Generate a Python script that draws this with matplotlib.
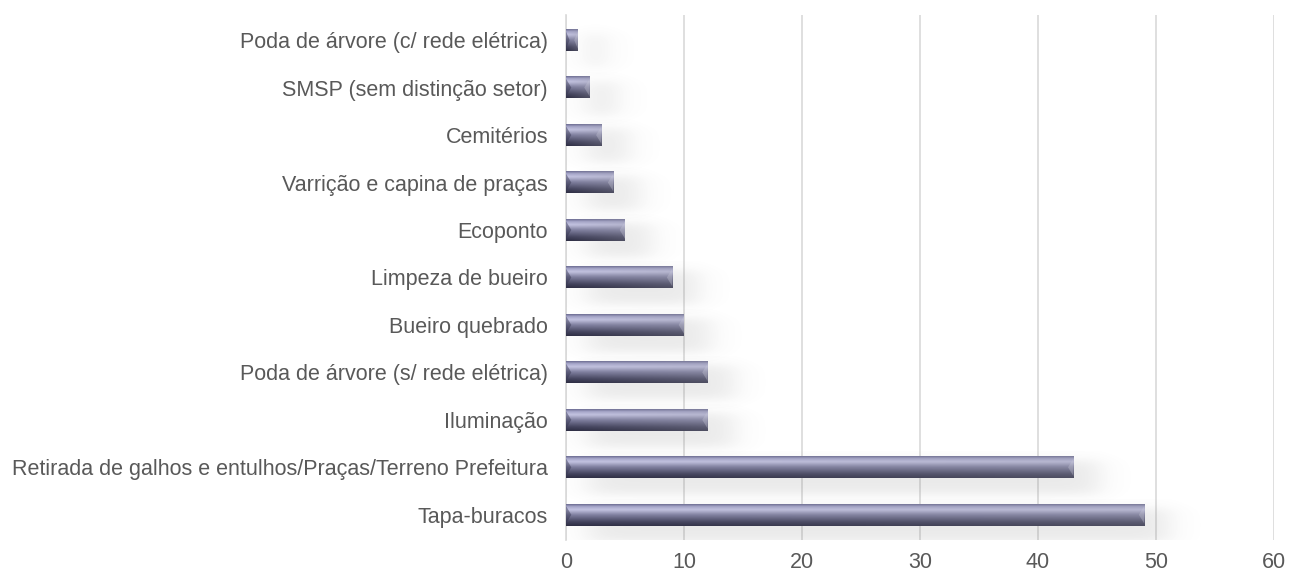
import numpy as np
import matplotlib.pyplot as plt
from matplotlib.colors import to_rgb

plt.rcParams['font.family'] = ['Liberation Sans', 'DejaVu Sans']

# categorias de baixo para cima
categorias = [
    "Tapa-buracos",
    "Retirada de galhos e entulhos/Praças/Terreno Prefeitura",
    "Iluminação",
    "Poda de árvore (s/ rede elétrica)",
    "Bueiro quebrado",
    "Limpeza de bueiro",
    "Ecoponto",
    "Varrição e capina de praças",
    "Cemitérios",
    "SMSP (sem distinção setor)",
    "Poda de árvore (c/ rede elétrica)",
]
valores = [49, 43, 12, 12, 10, 9, 5, 4, 3, 2, 1]
xticks = [0, 10, 20, 30, 40, 50, 60]


def bar_image(nx=200, ny=40):
    # perfil vertical: borda superior media, brilho perto do topo, base escura
    stops = [(0.0, "#6e6e94"), (0.10, "#a4a4c8"), (0.25, "#c4c4e2"),
             (0.50, "#7e7e9e"), (0.82, "#42425c"), (1.0, "#2e2e44")]
    t = np.linspace(0, 1, ny)
    prof = np.zeros((ny, 3))
    for c in range(3):
        prof[:, c] = np.interp(t, [s[0] for s in stops],
                               [to_rgb(s[1])[c] for s in stops])
    # leve clareamento acinzentado para a direita
    hx = np.linspace(0, 1, nx)[None, :, None]
    cinza = np.array(to_rgb("#9a9aa8"))[None, None, :]
    img = prof[:, None, :] * (1 - 0.3 * hx) + cinza * 0.3 * hx
    return np.clip(img, 0, 1)


def soft_box(v, a, b, s):
    return 0.5 * (np.tanh((v - a) / s) - np.tanh((v - b) / s))


fig, ax = plt.subplots(figsize=(12.9, 5.75), dpi=100)
fig.subplots_adjust(left=566 / 1290, right=1274 / 1290, bottom=0.061, top=0.974)

y = np.arange(len(categorias))
altura = 0.46
bars = ax.barh(y, valores, height=altura, color="none", zorder=3)

img = bar_image()
for b in bars:
    x0, y0 = b.get_x(), b.get_y()
    w, h = b.get_width(), b.get_height()
    # sombra suave (deslocada para a direita e para baixo)
    ex = [x0, x0 + w + 6.0, y0 - 0.55, y0 + h + 0.1]
    sx = np.linspace(ex[0], ex[1], 200)
    sy = np.linspace(ex[2], ex[3], 60)
    ax_x = soft_box(sx, x0 + 1.8, x0 + w + 2.2, 1.5)
    ax_y = soft_box(sy, y0 - 0.35, y0 + h * 0.8, 0.14)
    alpha = ax_y[:, None] * ax_x[None, :] * 0.15
    sh = np.zeros((60, 200, 4))
    sh[..., :3] = 0.45
    sh[..., 3] = alpha
    ax.imshow(sh, extent=ex, origin="lower", aspect="auto", zorder=2,
              interpolation="bilinear")
    ax.imshow(img, extent=[x0, x0 + w, y0, y0 + h], origin="upper",
              aspect="auto", zorder=3, interpolation="bilinear")
    # chanfros nas pontas
    bev = min(0.45, w * 0.3)
    ax.fill([x0, x0 + bev, x0], [y0 + h * 0.1, y0 + h * 0.5, y0 + h * 0.9],
            color="#34344e", alpha=0.45, zorder=4, lw=0)
    ax.fill([x0 + w, x0 + w - bev, x0 + w], [y0 + h * 0.1, y0 + h * 0.5, y0 + h * 0.9],
            color="#c8c8d8", alpha=0.35, zorder=4, lw=0)

ax.set_xlim(0, 60)
ax.set_ylim(-0.53, len(categorias) - 0.47)
ax.set_yticks(y)
ax.set_yticklabels(categorias, fontsize=15.5, color="#595959")
ax.set_xticks(xticks)
ax.set_xticklabels([str(v) for v in xticks], fontsize=15.5, color="#595959")
ax.tick_params(axis="both", length=0)
ax.tick_params(axis="y", pad=13)
ax.tick_params(axis="x", pad=9)
ax.grid(axis="x", color="#d9d9d9", lw=1.2, zorder=0)
ax.set_axisbelow(True)
for s in ["top", "right", "bottom"]:
    ax.spines[s].set_visible(False)
ax.spines["left"].set_color("#d9d9d9")
ax.spines["left"].set_linewidth(1.2)

fig.savefig("out.png", dpi=100)
